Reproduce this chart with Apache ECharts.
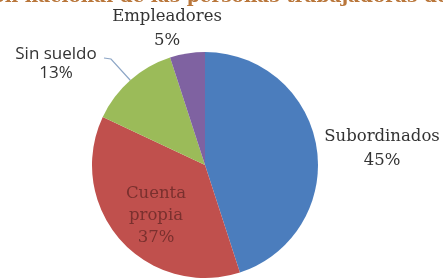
<!DOCTYPE html>
<html>
<head>
<meta charset="utf-8">
<script src="https://cdn.jsdelivr.net/npm/echarts@6/dist/echarts.min.js"></script>
<style>
html,body{margin:0;padding:0;background:#fff;}
#chart{width:443px;height:279px;}
</style>
</head>
<body>
<div id="chart"></div>
<script>
var categorias = ['Subordinados', 'Cuenta propia', 'Sin sueldo', 'Empleadores'];
var valores = [45, 37, 13, 5];
var colores = ['#4b7dbd', '#c0504d', '#9bbb59', '#7f62a1'];
var titulo = 'Distribución nacional de las personas trabajadoras de acuerdo';

// donde va cada etiqueta (centro del texto)
var posEtiquetas = [[382, 149], [156, 216], [56, 64], [167, 29]];

window.onload = function(){
	var dom = document.getElementById('chart');
	var myChart = echarts.init(dom);
	var data = [];
	for(var i=0;i<categorias.length;i++){
		var item = {
			value: valores[i],
			name: categorias[i],
			itemStyle: {color: colores[i]}
		};
		if(i==1){
			item.label = {position: 'inside', color: '#7a302e', lineHeight: 22};
		}
		if(i==2){
			//etiqueta con otra letra y con linea guia
			item.label = {fontFamily: 'Open Sans', fontSize: 17, lineHeight: 19, color: '#333'};
			item.labelLine = {show: true, lineStyle: {color: '#8da6c6', width: 1.2}};
		}
		data.push(item);
	}
	var option = {
		backgroundColor: '#fff',
		animation: false,
		title: {
			text: titulo,
			left: -116,
			top: -17,
			textStyle: {
				fontFamily: 'DejaVu Serif',
				fontWeight: 'bold',
				fontSize: 18.5,
				color: '#b9763a'
			}
		},
		series: [
			{
				type: 'pie',
				center: [205, 165],
				radius: 113,
				startAngle: 90,
				clockwise: true,
				data: data,
				label: {
					show: true,
					position: 'outside',
					formatter: function(p){
						if(p.dataIndex==1){
							return 'Cuenta\npropia\n' + p.value + '%';
						}
						return p.name + '\n' + p.value + '%';
					},
					fontFamily: 'DejaVu Serif',
					fontSize: 16.5,
					lineHeight: 24,
					color: '#333',
					align: 'center',
					overflow: 'none',
					width: 160
				},
				labelLine: {show: false},
				labelLayout: function(params){
					var p = posEtiquetas[params.dataIndex];
					var res = {
						x: p[0],
						y: p[1],
						align: 'center',
						verticalAlign: 'middle'
					};
					if(params.dataIndex==2 && params.labelLinePoints){
						var borde = params.labelLinePoints[0];
						res.labelLinePoints = [borde, [111, 59], [104, 58]];
					}
					return res;
				}
			}
		]
	};
	myChart.setOption(option, true);
}
</script>
</body>
</html>
